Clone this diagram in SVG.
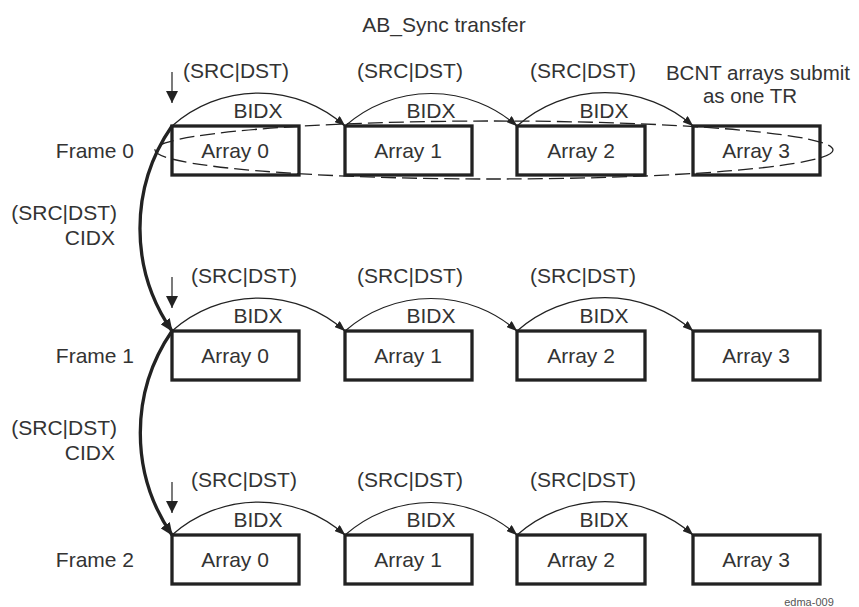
<svg xmlns="http://www.w3.org/2000/svg" width="859" height="607" viewBox="0 0 859 607">
<defs>
<style>
text{font-family:"Liberation Sans",Arial,sans-serif;font-size:21px;fill:#333}
.m{text-anchor:middle}
.e{text-anchor:end}
.box{fill:#fff;stroke:#222;stroke-width:3.3}
.arc{fill:none;stroke:#222;stroke-width:1.2}
.thick{fill:none;stroke:#222;stroke-width:3.3}
.dash{fill:none;stroke:#222;stroke-width:1.3;stroke-dasharray:15 6}
</style>
<marker id="ah" viewBox="0 0 11 8" refX="10.5" refY="4" markerWidth="11" markerHeight="8" markerUnits="userSpaceOnUse" orient="auto"><path d="M0,0 L11,4 L0,8 z" fill="#222"/></marker>
<marker id="ahd" viewBox="0 0 12 12" refX="12" refY="6" markerWidth="12" markerHeight="12" markerUnits="userSpaceOnUse" orient="auto"><path d="M0,0 L12,6 L0,12 z" fill="#222"/></marker>
<marker id="ahb" viewBox="0 0 13 11" refX="12" refY="5.5" markerWidth="13" markerHeight="11" markerUnits="userSpaceOnUse" orient="auto"><path d="M0,0 L13,5.5 L0,11 z" fill="#222"/></marker>
</defs>
<rect width="859" height="607" fill="#fff"/>
<text id="title" class="m" x="444" y="32">AB_Sync transfer</text>

<g id="frame-labels">
<text id="frame0-label" class="e" x="134" y="158">Frame 0</text>
<text id="frame1-label" class="e" x="134" y="363">Frame 1</text>
<text id="frame2-label" class="e" x="134" y="567">Frame 2</text>
</g>

<g id="row0">
<g id="f0a0"><rect class="box" x="172" y="126" width="127" height="49"/><text class="m" x="235" y="158">Array 0</text></g>
<g id="f0a1"><rect class="box" x="345" y="126" width="127" height="49"/><text class="m" x="408" y="158">Array 1</text></g>
<g id="f0a2"><rect class="box" x="517" y="126" width="128" height="49"/><text class="m" x="581" y="158">Array 2</text></g>
<g id="f0a3"><rect class="box" x="693" y="126" width="127" height="49"/><text class="m" x="756" y="158">Array 3</text></g>
</g>
<g id="row1">
<g id="f1a0"><rect class="box" x="172" y="331" width="127" height="49"/><text class="m" x="235" y="363">Array 0</text></g>
<g id="f1a1"><rect class="box" x="345" y="331" width="127" height="49"/><text class="m" x="408" y="363">Array 1</text></g>
<g id="f1a2"><rect class="box" x="517" y="331" width="128" height="49"/><text class="m" x="581" y="363">Array 2</text></g>
<g id="f1a3"><rect class="box" x="693" y="331" width="127" height="49"/><text class="m" x="756" y="363">Array 3</text></g>
</g>
<g id="row2">
<g id="f2a0"><rect class="box" x="172" y="535" width="127" height="49"/><text class="m" x="235" y="567">Array 0</text></g>
<g id="f2a1"><rect class="box" x="345" y="535" width="127" height="49"/><text class="m" x="408" y="567">Array 1</text></g>
<g id="f2a2"><rect class="box" x="517" y="535" width="128" height="49"/><text class="m" x="581" y="567">Array 2</text></g>
<g id="f2a3"><rect class="box" x="693" y="535" width="127" height="49"/><text class="m" x="756" y="567">Array 3</text></g>
</g>

<g id="connectors">
<ellipse class="dash" cx="494" cy="150" rx="339" ry="29"/>
<line class="arc" x1="172" y1="72" x2="172" y2="103" marker-end="url(#ahd)"/>
<path class="arc" d="M172,126 A130,130 0 0 1 345,126" marker-end="url(#ah)"/>
<path class="arc" d="M345,126 A130,130 0 0 1 517,126" marker-end="url(#ah)"/>
<path class="arc" d="M517,126 A133,133 0 0 1 693,126" marker-end="url(#ah)"/>
<line class="arc" x1="172" y1="277" x2="172" y2="308" marker-end="url(#ahd)"/>
<path class="arc" d="M172,331 A130,130 0 0 1 345,331" marker-end="url(#ah)"/>
<path class="arc" d="M345,331 A130,130 0 0 1 517,331" marker-end="url(#ah)"/>
<path class="arc" d="M517,331 A133,133 0 0 1 693,331" marker-end="url(#ah)"/>
<line class="arc" x1="172" y1="482" x2="172" y2="513" marker-end="url(#ahd)"/>
<path class="arc" d="M172,535 A130,130 0 0 1 345,535" marker-end="url(#ah)"/>
<path class="arc" d="M345,535 A130,130 0 0 1 517,535" marker-end="url(#ah)"/>
<path class="arc" d="M517,535 A133,133 0 0 1 693,535" marker-end="url(#ah)"/>
<path class="thick" d="M172,126 A180,180 0 0 0 172,331" marker-end="url(#ahb)"/>
<path class="thick" d="M172,331 A180,180 0 0 0 172,535" marker-end="url(#ahb)"/>
</g>

<g id="labels">
<text class="m" x="236" y="78">(SRC|DST)</text>
<text class="m" x="410" y="78">(SRC|DST)</text>
<text class="m" x="583" y="78">(SRC|DST)</text>
<text class="m" x="758" y="80" style="font-size:20.5px">BCNT arrays submit</text>
<text class="m" x="750" y="103" style="font-size:20.5px">as one TR</text>
<text class="m" x="258" y="118">BIDX</text>
<text class="m" x="431" y="118">BIDX</text>
<text class="m" x="604" y="118">BIDX</text>

<text class="m" x="244" y="283">(SRC|DST)</text>
<text class="m" x="410" y="283">(SRC|DST)</text>
<text class="m" x="583" y="283">(SRC|DST)</text>
<text class="m" x="258" y="323">BIDX</text>
<text class="m" x="431" y="323">BIDX</text>
<text class="m" x="604" y="323">BIDX</text>

<text class="m" x="244" y="487">(SRC|DST)</text>
<text class="m" x="410" y="487">(SRC|DST)</text>
<text class="m" x="583" y="487">(SRC|DST)</text>
<text class="m" x="258" y="527">BIDX</text>
<text class="m" x="431" y="527">BIDX</text>
<text class="m" x="604" y="527">BIDX</text>

<text class="e" x="117" y="220">(SRC|DST)</text>
<text class="e" x="115" y="245">CIDX</text>
<text class="e" x="117" y="435">(SRC|DST)</text>
<text class="e" x="115" y="460">CIDX</text>
</g>
<text id="fig-id" class="m" x="809" y="606" style="font-size:11px;fill:#555">edma-009</text>
</svg>
